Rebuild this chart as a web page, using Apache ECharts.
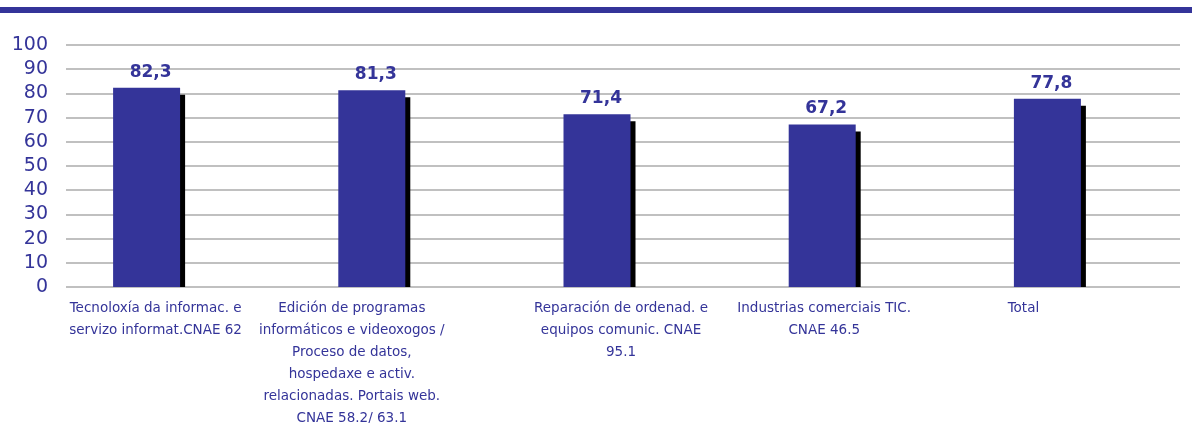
<!DOCTYPE html>
<html>
<head>
<meta charset="utf-8">
<script src="https://cdn.jsdelivr.net/npm/echarts@6/dist/echarts.min.js"></script>
<style>
  html, body { margin: 0; padding: 0; background: #fff; }
  #main { width: 1192px; height: 423px; }
</style>
</head>
<body>
<div id="main"></div>
<script>
var categories = [
  'Tecnoloxía da informac. e\nservizo informat.CNAE 62',
  'Edición de programas\ninformáticos e videoxogos /\nProceso de datos,\nhospedaxe e activ.\nrelacionadas. Portais web.\nCNAE 58.2/ 63.1',
  'Reparación de ordenad. e\nequipos comunic. CNAE\n95.1',
  'Industrias comerciais TIC.\nCNAE 46.5',
  'Total'
];
var values = [82.3, 81.3, 71.4, 67.2, 77.8];
var yTicks = [0, 10, 20, 30, 40, 50, 60, 70, 80, 90, 100];

// label nudges so the wrapped text sits like the original
var labelShift = [18, -40, 48, 4, -48];
var blue = '#343499';
var barW = 67;

var myChart = echarts.init(document.getElementById('main'));
myChart.setOption({
  animation: false,
  graphic: [{
    type: 'rect', shape: { x: 0, y: 7, width: 1192, height: 6 },
    style: { fill: blue }
  }],
  grid: [
    { left: 66, right: 12, top: 45, bottom: 136, outerBoundsMode: 'none', containLabel: false },
    { left: 34, right: 32, top: 45, bottom: 136, outerBoundsMode: 'none', containLabel: false }
  ],
  xAxis: [
    { gridIndex: 0, type: 'value', show: false, min: 0, max: 1 },
    {
      gridIndex: 1, type: 'category',
      data: categories.map(function (c, i) {
        var p = labelShift[i];
        return { value: c, textStyle: { padding: p > 0 ? [0, 0, 0, p] : [0, -p, 0, 0] } };
      }),
      axisLine: { show: false }, axisTick: { show: false },
      axisLabel: {
        interval: 0, margin: 10, color: blue,
        fontFamily: 'DejaVu Sans', fontSize: 13.5, lineHeight: 22
      }
    }
  ],
  yAxis: [
    {
      gridIndex: 0, type: 'value', min: 0, max: 100, interval: 10,
      axisLine: { show: false }, axisTick: { show: false },
      axisLabel: {
        margin: 18, color: blue, fontFamily: 'DejaVu Sans', fontSize: 19,
        formatter: function (v) { return yTicks.indexOf(v) >= 0 ? String(v) : ''; }
      },
      splitLine: { lineStyle: { color: '#c0c0c0', width: 2 } }
    },
    {
      gridIndex: 1, type: 'value', min: 0, max: 100, interval: 10, show: false,
      splitLine: { show: false }
    }
  ],
  series: [
    {
      type: 'custom', xAxisIndex: 1, yAxisIndex: 1, z: 1,
      data: values.map(function (v, i) { return [i, v]; }),
      renderItem: function (params, api) {
        var top = api.coord([api.value(0), api.value(1)]);
        var base = api.coord([api.value(0), 0]);
        return {
          type: 'rect',
          shape: { x: top[0] - barW / 2 + 5, y: top[1] + 7, width: barW, height: base[1] - top[1] - 7 },
          style: { fill: '#000' }
        };
      }
    },
    {
      type: 'bar', xAxisIndex: 1, yAxisIndex: 1, z: 2,
      data: values, barWidth: barW,
      itemStyle: { color: blue },
      label: {
        show: true, position: 'top', distance: 7, offset: [4, 0],
        color: blue, fontFamily: 'DejaVu Sans', fontWeight: 'bold', fontSize: 17,
        formatter: function (p) { return p.value.toFixed(1).replace('.', ','); }
      }
    }
  ]
});
</script>
</body>
</html>
